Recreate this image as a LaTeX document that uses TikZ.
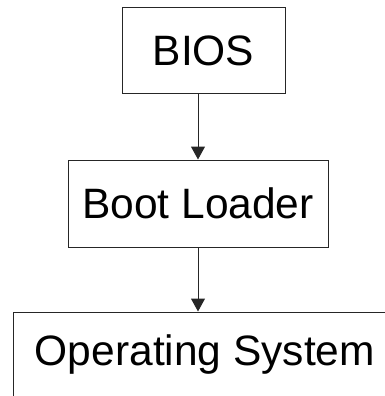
\documentclass[tikz,border=0pt]{standalone}
\usepackage{fontspec}
\setmainfont{Liberation Sans}
\usetikzlibrary{arrows.meta}
\begin{document}
\begin{tikzpicture}[x=1pt,y=-1pt,
  box/.style={draw=black!85, line width=1pt, fill=white, inner sep=0pt,
    font=\fontsize{42.5}{50}\selectfont, text=black},
  conn/.style={draw=black!85, line width=1pt, -{Triangle[length=13pt,width=14pt]}}]
\useasboundingbox (0,0) rectangle (385,396);
\clip (0,0) rectangle (385,396);
\fill[white] (0,0) rectangle (385,396);
\node[box, minimum width=163pt, minimum height=85pt] (bios) at (203.5,50.5) {BIOS};
\node[box, minimum width=260pt, minimum height=87pt] (bl) at (198,203.5) {Boot Loader};
\node[box, minimum width=384pt, minimum height=86pt] (os) at (205,355) {Operating System};
\draw[conn] (bl.north |- bios.south) -- (bl.north);
\draw[conn] (bl.south) -- (bl.south |- os.north);
\end{tikzpicture}
\end{document}
